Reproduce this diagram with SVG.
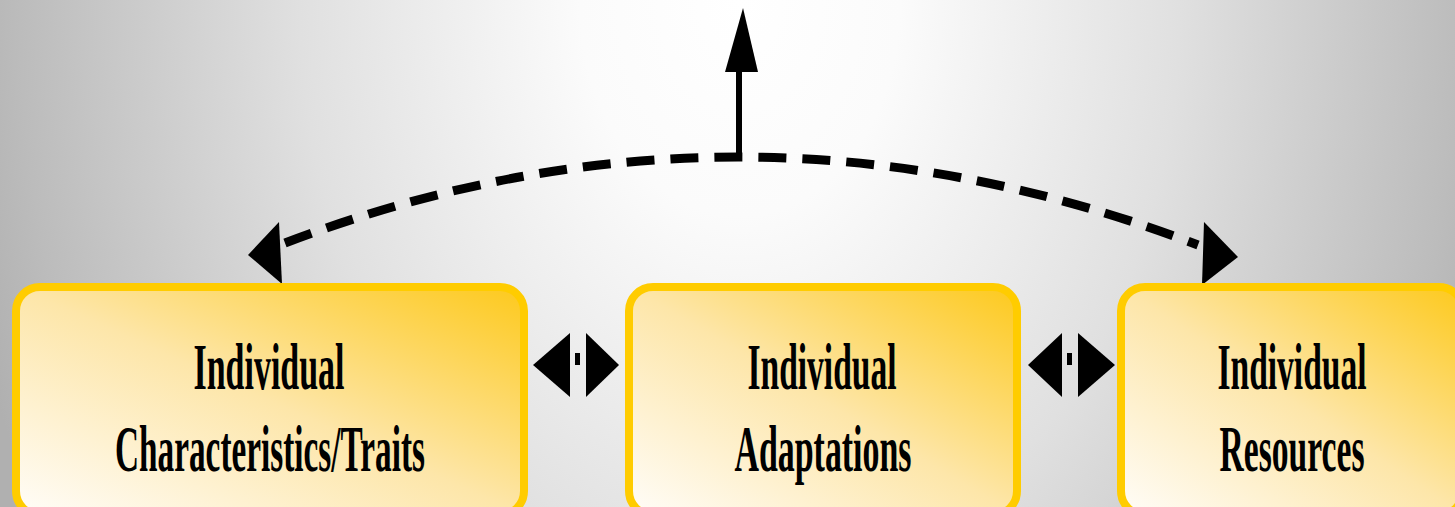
<svg xmlns="http://www.w3.org/2000/svg" width="1455" height="507" viewBox="0 0 1455 507">
<style>
.box{stroke:#ffcc00;stroke-width:8;fill:url(#boxFill)}
.lbl{font-family:"Liberation Serif","Times New Roman",serif;font-weight:bold;font-size:65px;fill:#000;text-anchor:middle}
.ah{fill:#000}
.dash{fill:none;stroke:#000;stroke-width:9;stroke-dasharray:28 16}
</style>
<defs>
<radialGradient id="bg" cx="740" cy="0" r="800" gradientUnits="userSpaceOnUse" gradientTransform="translate(740 0) scale(1 1.35) translate(-740 0)">
<stop offset="0" stop-color="#ffffff"/>
<stop offset="0.2" stop-color="#fbfbfb"/>
<stop offset="0.55" stop-color="#e0e0e0"/>
<stop offset="0.9" stop-color="#bcbcbc"/>
<stop offset="1" stop-color="#b0b0b0"/>
</radialGradient>
<linearGradient id="boxFill" x1="0" y1="1" x2="1" y2="0">
<stop offset="0" stop-color="#fffdf9"/>
<stop offset="0.5" stop-color="#fde6a9"/>
<stop offset="1" stop-color="#fdc91c"/>
</linearGradient>
</defs>
<rect x="0" y="0" width="1455" height="507" fill="url(#bg)"/>

<g id="connectors">
<path class="dash" d="M 285 243 Q 740 70 1198 245"/>
<polygon class="ah" points="248,255 279,222 282,284"/>
<polygon class="ah" points="1238,257 1204,222 1202,285"/>
<line x1="739" y1="157" x2="739" y2="70" stroke="#000" stroke-width="6"/>
<polygon class="ah" points="743,8 758,72 725,72"/>
<g id="link1">
<polygon class="ah" points="533,365 570,333 570,397"/>
<rect class="ah" x="575" y="353" width="5" height="12"/>
<polygon class="ah" points="619,365 586,333 586,397"/>
</g>
<g id="link2">
<polygon class="ah" points="1028,365 1062,333 1062,397"/>
<rect class="ah" x="1067" y="353" width="5" height="12"/>
<polygon class="ah" points="1115,365 1078,333 1078,397"/>
</g>
</g>

<g id="node-traits">
<rect class="box" x="16" y="287" width="508" height="228" rx="24"/>
<text class="lbl" x="269" y="389" textLength="151" lengthAdjust="spacingAndGlyphs">Individual</text>
<text class="lbl" x="270" y="471" textLength="310" lengthAdjust="spacingAndGlyphs">Characteristics/Traits</text>
</g>
<g id="node-adaptations">
<rect class="box" x="629" y="287" width="388" height="228" rx="24"/>
<text class="lbl" x="822" y="389" textLength="149" lengthAdjust="spacingAndGlyphs">Individual</text>
<text class="lbl" x="823" y="471" textLength="177" lengthAdjust="spacingAndGlyphs">Adaptations</text>
</g>
<g id="node-resources">
<rect class="box" x="1121" y="287" width="342" height="228" rx="24"/>
<text class="lbl" x="1292" y="389" textLength="149" lengthAdjust="spacingAndGlyphs">Individual</text>
<text class="lbl" x="1292" y="471" textLength="145" lengthAdjust="spacingAndGlyphs">Resources</text>
</g>
</svg>
